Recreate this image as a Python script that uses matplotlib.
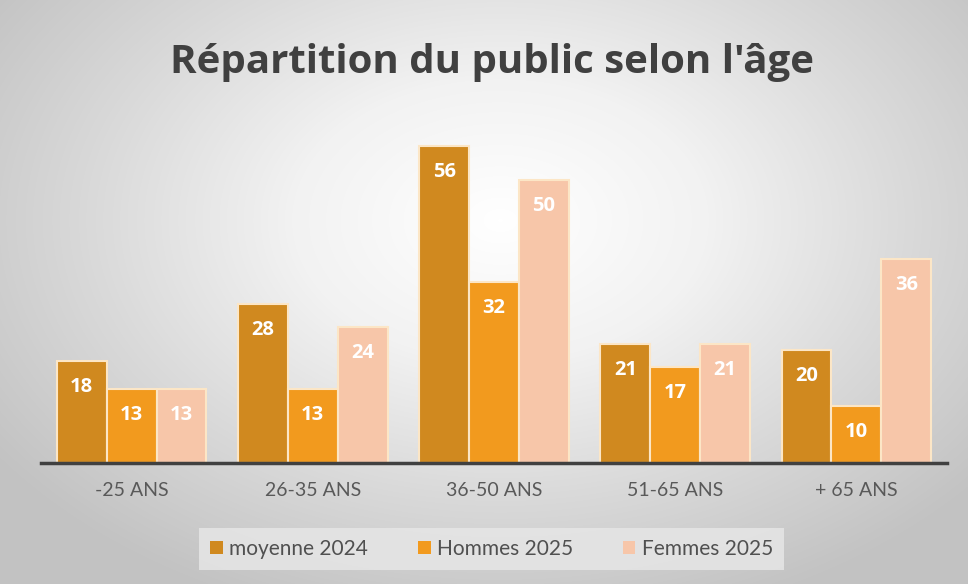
import numpy as np
import matplotlib.pyplot as plt
from matplotlib.colors import LinearSegmentedColormap

categories = ['-25 ANS', '26-35 ANS', '36-50 ANS', '51-65 ANS', '+ 65 ANS']
moyenne_2024 = [18, 28, 56, 21, 20]
hommes_2025 = [13, 13, 32, 17, 10]
femmes_2025 = [13, 24, 50, 21, 36]
series_names = ['moyenne 2024', 'Hommes 2025', 'Femmes 2025']
colors = ['#D0891F', '#F29A1E', '#F7C6A9']

plt.rcParams['font.family'] = ['Lato', 'DejaVu Sans']

fig = plt.figure(figsize=(9.68, 5.84), dpi=100)

# radial grey background
bg = fig.add_axes([0, 0, 1, 1], zorder=0)
yy, xx = np.mgrid[0:584, 0:968]
r = np.sqrt(((xx - 500) / 620.0) ** 2 + ((yy - 220) / 420.0) ** 2)
cmap = LinearSegmentedColormap.from_list('bg', ['#FFFFFF', '#F2F2F2', '#D9D9D9', '#C2C2C2'])
bg.imshow(r, cmap=cmap, vmin=0, vmax=1.0, aspect='auto')
bg.axis('off')

ax = fig.add_axes([41 / 968, 1 - 463 / 584, 906 / 968, 340 / 584], zorder=1)
ax.patch.set_alpha(0)

x = np.arange(len(categories))
w = 0.275
for i, vals in enumerate([moyenne_2024, hommes_2025, femmes_2025]):
    bars = ax.bar(x + (i - 1) * w, vals, w, color=colors[i], edgecolor='#FCE6C6',
                  linewidth=1.5, label=series_names[i])
    for b, v in zip(bars, vals):
        ax.text(b.get_x() + b.get_width() / 2, v - 4.6, str(v), ha='center', va='center',
                color='white', fontsize=14.5, fontweight='bold', family='Open Sans')

ax.set_xlim(-0.5, len(categories) - 0.5)
ax.set_ylim(0, 60)
ax.set_yticks([])
for s in ['top', 'right', 'left']:
    ax.spines[s].set_visible(False)
ax.spines['bottom'].set_color('#404040')
ax.spines['bottom'].set_linewidth(2.5)
ax.set_xticks(x)
ax.set_xticklabels(categories, fontsize=14, color='#595959')
ax.tick_params(axis='x', length=0, pad=14)

fig.text(0.508, 1 - 62 / 584, "Répartition du public selon l'âge", ha='center', va='center',
         fontsize=29, fontweight='bold', color='#404040', family='Open Sans')

leg = fig.legend(loc='center', bbox_to_anchor=(0.508, 1 - 549 / 584), ncol=3, frameon=True,
                 fontsize=15, handlelength=0.6, handleheight=0.6, handletextpad=0.3,
                 columnspacing=2.4, fancybox=False, borderpad=0.55, borderaxespad=0)
leg.get_frame().set_facecolor('#E6E6E6')
leg.get_frame().set_edgecolor('none')
leg.get_frame().set_alpha(0.85)
for t in leg.get_texts():
    t.set_color('#505050')
for h in leg.legend_handles:
    h.set_edgecolor('none')

fig.savefig('out.png', dpi=100)
